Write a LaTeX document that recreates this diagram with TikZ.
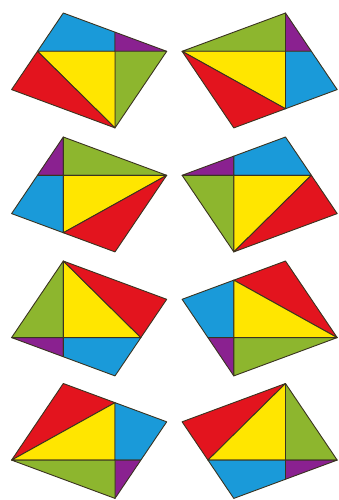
\documentclass[tikz,border=0pt]{standalone}
\definecolor{pcyan}{HTML}{1A9AD9}
\definecolor{pyellow}{HTML}{FFE600}
\definecolor{pred}{HTML}{E3141E}
\definecolor{pgreen}{HTML}{8DB62E}
\definecolor{ppurple}{HTML}{8A2190}
\definecolor{pline}{HTML}{3A3320}
\tikzset{
  piece/.style={draw=pline, line width=0.9pt, line join=round},
  cy/.style={piece, fill=pcyan},
  ye/.style={piece, fill=pyellow},
  re/.style={piece, fill=pred},
  gr/.style={piece, fill=pgreen},
  pu/.style={piece, fill=ppurple},
}
% type A parallelogram: T top, R right, B bottom, L left, with edge midpoints
\newcommand\ptsA[1]{%
  \coordinate (#1T) at (0,0);
  \coordinate (#1R) at (103.4,38.3);
  \coordinate (#1B) at (51.7,114.9);
  \coordinate (#1L) at (-51.7,76.6);
  \coordinate (#1mTR) at (51.7,19.15);
  \coordinate (#1mRB) at (77.55,76.6);
  \coordinate (#1mBL) at (0,95.75);
  \coordinate (#1mLT) at (-25.85,38.3);}
% type B (mirror image)
\newcommand\ptsB[1]{%
  \coordinate (#1T) at (0,0);
  \coordinate (#1L) at (-103.4,38.3);
  \coordinate (#1B) at (-51.7,114.9);
  \coordinate (#1R) at (51.7,76.6);
  \coordinate (#1mTL) at (-51.7,19.15);
  \coordinate (#1mLB) at (-77.55,76.6);
  \coordinate (#1mBR) at (0,95.75);
  \coordinate (#1mRT) at (25.85,38.3);}
\begin{document}
\begin{tikzpicture}[x=1pt,y=-1pt]
\useasboundingbox (0,0) rectangle (339,500);
% shape 1
\begin{scope}[shift={(63.3,13)}]
  \ptsA{a}
  \coordinate (aX) at (51.7,38.3);
  \fill[cy] (aT) -- (amTR) -- (aX) -- (amLT) -- cycle;
  \fill[pu] (amTR) -- (aR) -- (aX) -- cycle;
  \fill[gr] (aX) -- (aR) -- (aB) -- cycle;
  \fill[ye] (amLT) -- (aX) -- (aB) -- cycle;
  \fill[re] (amLT) -- (aB) -- (aL) -- cycle;
\end{scope}
% shape 2
\begin{scope}[shift={(285.5,13)}]
  \ptsB{b}
  \coordinate (bX) at (0,38.3);
  \fill[gr] (bL) -- (bT) -- (bX) -- cycle;
  \fill[pu] (bT) -- (bmRT) -- (bX) -- cycle;
  \fill[cy] (bX) -- (bmRT) -- (bR) -- (bmBR) -- cycle;
  \fill[ye] (bL) -- (bX) -- (bmBR) -- cycle;
  \fill[re] (bL) -- (bmBR) -- (bB) -- cycle;
\end{scope}
% shape 3
\begin{scope}[shift={(63.3,137)}]
  \ptsA{c}
  \coordinate (cX) at (0,38.3);
  \fill[pu] (cT) -- (cX) -- (cmLT) -- cycle;
  \fill[gr] (cT) -- (cR) -- (cX) -- cycle;
  \fill[cy] (cmLT) -- (cX) -- (cmBL) -- (cL) -- cycle;
  \fill[ye] (cX) -- (cR) -- (cmBL) -- cycle;
  \fill[re] (cmBL) -- (cR) -- (cB) -- cycle;
\end{scope}
% shape 4
\begin{scope}[shift={(285.5,137)}]
  \ptsB{d}
  \coordinate (dX) at (-51.7,38.3);
  \fill[pu] (dL) -- (dmTL) -- (dX) -- cycle;
  \fill[cy] (dmTL) -- (dT) -- (dmRT) -- (dX) -- cycle;
  \fill[gr] (dL) -- (dX) -- (dB) -- cycle;
  \fill[ye] (dX) -- (dmRT) -- (dB) -- cycle;
  \fill[re] (dmRT) -- (dR) -- (dB) -- cycle;
\end{scope}
% shape 5
\begin{scope}[shift={(63.3,261)}]
  \ptsA{e}
  \coordinate (eX) at (0,76.6);
  \fill[gr] (eT) -- (eX) -- (eL) -- cycle;
  \fill[ye] (eT) -- (emRB) -- (eX) -- cycle;
  \fill[re] (eT) -- (eR) -- (emRB) -- cycle;
  \fill[pu] (eL) -- (eX) -- (emBL) -- cycle;
  \fill[cy] (eX) -- (emRB) -- (eB) -- (emBL) -- cycle;
\end{scope}
% shape 6
\begin{scope}[shift={(285.5,261)}]
  \ptsB{f}
  \coordinate (fX) at (-51.7,76.6);
  \fill[cy] (fL) -- (fmTL) -- (fX) -- (fmLB) -- cycle;
  \fill[re] (fmTL) -- (fT) -- (fR) -- cycle;
  \fill[ye] (fmTL) -- (fR) -- (fX) -- cycle;
  \fill[pu] (fmLB) -- (fX) -- (fB) -- cycle;
  \fill[gr] (fX) -- (fR) -- (fB) -- cycle;
\end{scope}
% shape 7
\begin{scope}[shift={(63.3,383.5)}]
  \ptsA{g}
  \coordinate (gX) at (51.7,76.6);
  \fill[re] (gT) -- (gmTR) -- (gL) -- cycle;
  \fill[ye] (gmTR) -- (gX) -- (gL) -- cycle;
  \fill[cy] (gmTR) -- (gR) -- (gmRB) -- (gX) -- cycle;
  \fill[pu] (gX) -- (gmRB) -- (gB) -- cycle;
  \fill[gr] (gL) -- (gX) -- (gB) -- cycle;
\end{scope}
% shape 8
\begin{scope}[shift={(285.5,383.5)}]
  \ptsB{h}
  \coordinate (hX) at (0,76.6);
  \fill[re] (hL) -- (hT) -- (hmLB) -- cycle;
  \fill[ye] (hmLB) -- (hT) -- (hX) -- cycle;
  \fill[gr] (hT) -- (hR) -- (hX) -- cycle;
  \fill[cy] (hmLB) -- (hX) -- (hmBR) -- (hB) -- cycle;
  \fill[pu] (hX) -- (hR) -- (hmBR) -- cycle;
\end{scope}
\end{tikzpicture}
\end{document}
